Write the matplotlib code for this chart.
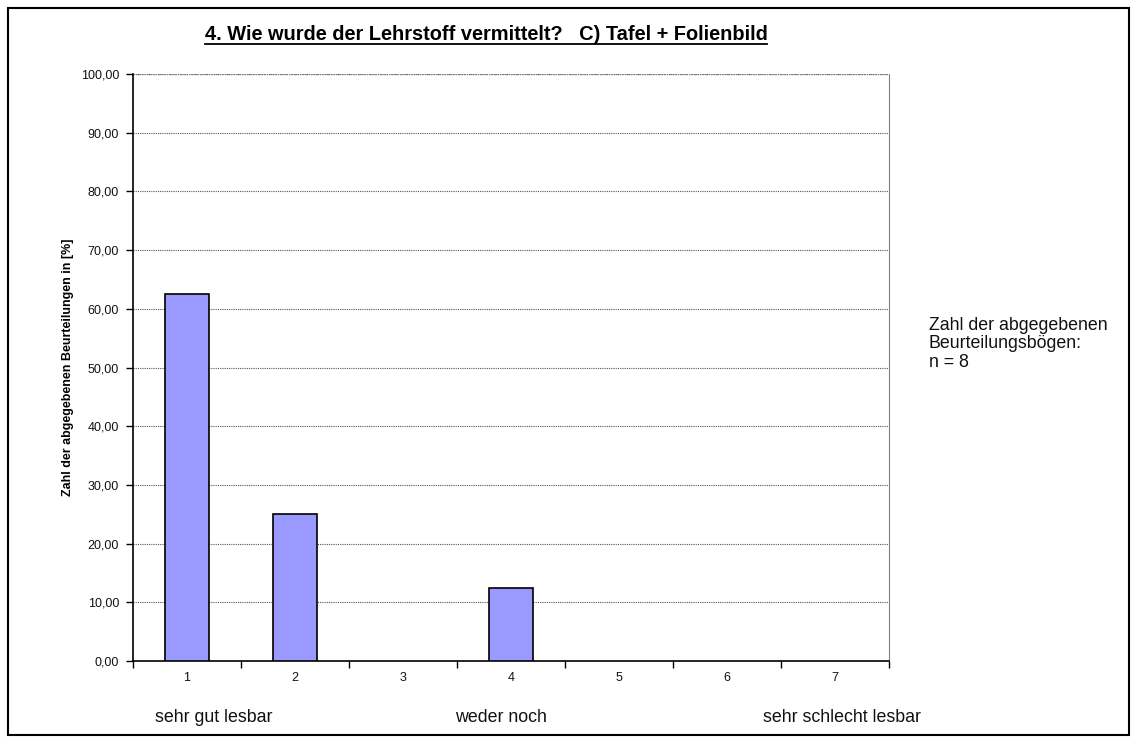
import matplotlib
matplotlib.use("Agg")
import matplotlib.pyplot as plt
from matplotlib.patches import Rectangle
from matplotlib.ticker import FixedLocator, NullFormatter

categories = ["1", "2", "3", "4", "5", "6", "7"]
values = [62.5, 25.0, 0.0, 12.5, 0.0, 0.0, 0.0]
yticks = [0, 10, 20, 30, 40, 50, 60, 70, 80, 90, 100]
ytick_labels = ["0,00", "10,00", "20,00", "30,00", "40,00", "50,00",
                "60,00", "70,00", "80,00", "90,00", "100,00"]
title = "4. Wie wurde der Lehrstoff vermittelt?   C) Tafel + Folienbild"
ylabel = "Zahl der abgegebenen Beurteilungen in [%]"
note = "Zahl der abgegebenen\nBeurteilungsbögen:\nn = 8"
scale_labels = ["sehr gut lesbar", "weder noch", "sehr schlecht lesbar"]

plt.rcParams['font.family'] = ['Liberation Sans', 'DejaVu Sans']

W, H = 1137, 744
fig = plt.figure(figsize=(W / 100, H / 100), dpi=100)
fig.patches.append(Rectangle((8 / W, 1 - 735 / H), (1129 - 8) / W, (735 - 8) / H,
                             transform=fig.transFigure, fill=False,
                             edgecolor='black', linewidth=1.5))

x0, x1, y0, y1 = 133, 889, 74, 661
ax = fig.add_axes([x0 / W, 1 - y1 / H, (x1 - x0) / W, (y1 - y0) / H])

xs = list(range(1, len(categories) + 1))
bars = ax.bar(xs, values, width=0.4, color='#9999FF', edgecolor='black',
              linewidth=1.2, zorder=3)
for b, v in zip(bars, values):
    if v == 0:
        b.set_visible(False)
ax.set_xlim(0.5, len(categories) + 0.5)
ax.set_ylim(0, 100)

ax.set_yticks(yticks)
ax.set_yticklabels(ytick_labels, fontsize=9, color='#111111')
ax.yaxis.grid(True, color='#555555', linestyle=(0, (1, 1)), linewidth=0.8, zorder=0)

ax.xaxis.set_major_locator(FixedLocator([x - 0.5 for x in xs] + [len(xs) + 0.5]))
ax.xaxis.set_major_formatter(NullFormatter())
ax.xaxis.set_minor_locator(FixedLocator(xs))
ax.set_xticklabels(categories, minor=True, fontsize=9, color='#111111')
ax.tick_params(axis='x', which='major', length=5, direction='out', width=1)
ax.tick_params(axis='x', which='minor', length=0, pad=8)
ax.tick_params(axis='y', length=5, direction='out', width=1, pad=5)

for s in ['left', 'bottom']:
    ax.spines[s].set_color('black')
    ax.spines[s].set_linewidth(1.2)
ax.spines['right'].set_color('#808080')
ax.spines['top'].set_visible(False)
ax.axhline(100, color='#808080', linewidth=1.0, linestyle=(0, (1, 1)))

ax.set_ylabel(ylabel, fontsize=9, fontweight='bold', labelpad=5)

fig.text(486 / W, 1 - 35 / H, title, ha='center', va='center', fontsize=14.4,
         fontweight='bold')
t = fig.texts[-1]
fig.canvas.draw()
bb = t.get_window_extent()
fig.add_artist(plt.Line2D([bb.x0 / W, bb.x1 / W], [(bb.y0 + 1) / H, (bb.y0 + 1) / H],
                          transform=fig.transFigure, color='black', linewidth=1.3))

fig.text(929 / W, 1 - 344 / H, note, ha='left', va='center', fontsize=12.8,
         linespacing=1.15, color='#111111')

fig.text(155 / W, 1 - 717 / H, scale_labels[0], ha='left', va='center', fontsize=12.8, color='#111111')
fig.text(501 / W, 1 - 717 / H, scale_labels[1], ha='center', va='center', fontsize=12.8, color='#111111')
fig.text(763 / W, 1 - 717 / H, scale_labels[2], ha='left', va='center', fontsize=12.8, color='#111111')

fig.savefig("out.png", dpi=100)
